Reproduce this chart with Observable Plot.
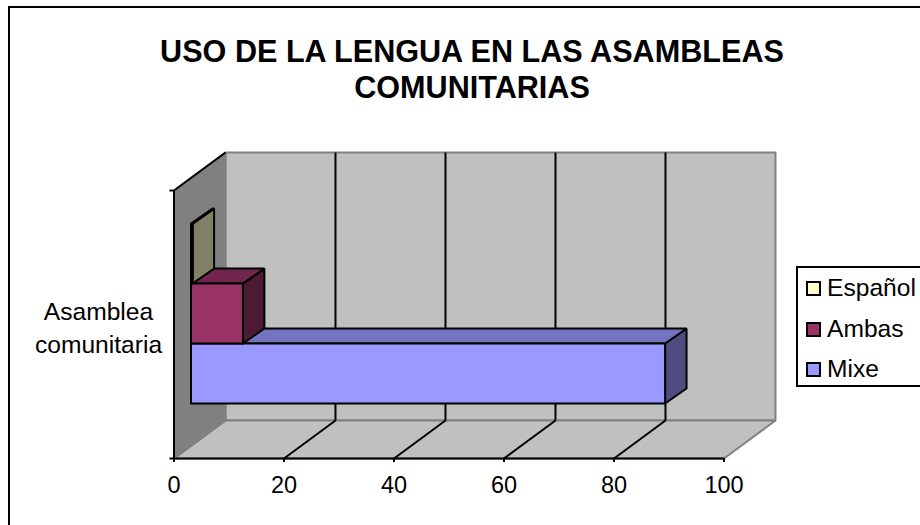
<!DOCTYPE html>
<html lang="es">
<head>
<meta charset="utf-8">
<script src="https://cdn.jsdelivr.net/npm/d3@7"></script>
<script src="https://cdn.jsdelivr.net/npm/@observablehq/plot@0.6"></script>
<style>
  html, body { margin: 0; padding: 0; background: #fff; }
  body { width: 920px; height: 525px; overflow: hidden; position: relative; font-family: "Liberation Sans", Arial, sans-serif; color: #000; }
  #frame { position: absolute; left: 8px; top: 6px; width: 930px; height: 540px; border: 2px solid #000; box-sizing: border-box; }
  #chart { position: absolute; left: 0; top: 0; }
  #title { position: absolute; left: 60px; width: 824px; top: 33px; text-align: center; font-weight: bold; font-size: 30.6px; line-height: 36px; letter-spacing: 0; }
  #legend { position: absolute; left: 796px; top: 266px; width: 140px; height: 121px; border: 2px solid #000; box-sizing: border-box; background: #fff; }
  .row { position: absolute; left: 8px; font-size: 24.6px; line-height: 28px; white-space: nowrap; height: 28px; }
  .sw { display: inline-block; position: absolute; left: 0; top: 7px; width: 15px; height: 15px; border: 2px solid #000; box-sizing: border-box; }
  .lb { position: absolute; left: 21px; top: 0; }
</style>
</head>
<body>
<div id="frame"></div>
<div id="chart"></div>
<div id="title">USO DE LA LENGUA EN LAS ASAMBLEAS<br>COMUNITARIAS</div>
<div id="legend"></div>
<script>
const title = "USO DE LA LENGUA EN LAS ASAMBLEAS COMUNITARIAS";
const category = "Asamblea\ncomunitaria";
const series = ["Mixe", "Ambas", "Español"];
const values = [86.2, 9.45, 0.3];
const xTicks = [0, 20, 40, 60, 80, 100];
const frontColors = ["#9999FF", "#993366", "#FFFFCC"];
const topColors = ["#7373BF", "#73264D", "#BFBF99"];
const sideColors = ["#4D4D80", "#4D1A33", "#808066"];
const legendOrder = ["Español", "Ambas", "Mixe"];

const yMax = 4.47;               // slots on the front plane
const wallDx = 9.36, wallDy = 0.633;  // box depth in scale units
const gapDx = 3.09, gapDy = 0.208;    // where the bars begin inside the box
const barDx = 3.9, barDy = 0.25;      // bar depth
const firstSlot = 0.71;

function face(points, fill, stroke, strokeWidth) {
  const closed = [...points, points[0]].map(([x, y]) => ({x, y}));
  return Plot.line(closed, {x: "x", y: "y", fill, stroke, strokeWidth, strokeLinejoin: "miter", curve: "linear"});
}
function seg(a, b, stroke, strokeWidth) {
  return Plot.line([{x: a[0], y: a[1]}, {x: b[0], y: b[1]}], {x: "x", y: "y", stroke, strokeWidth, strokeLinecap: "butt"});
}

const box = [
  // back wall
  face([[wallDx, wallDy], [100 + wallDx, wallDy], [100 + wallDx, yMax + wallDy], [wallDx, yMax + wallDy]], "#C0C0C0", "#808080", 2),
  // floor
  face([[0, 0], [100, 0], [100 + wallDx, wallDy], [wallDx, wallDy]], "#C0C0C0", "#808080", 2),
  // side wall
  face([[0, 0], [wallDx, wallDy], [wallDx, yMax + wallDy], [0, yMax]], "#808080", "#808080", 2),
  seg([0, 0], [100, 0], "#000", 2),
  seg([0, 0], [0, yMax], "#000", 2),
  seg([0, yMax], [wallDx, yMax + wallDy], "#000", 2),
  // grid on floor and back wall
  ...xTicks.slice(1, -1).flatMap(t => [
    seg([t, 0], [t + wallDx, wallDy], "#000", 2),
    seg([t + wallDx, wallDy], [t + wallDx, yMax + wallDy], "#000", 2)
  ])
];

const bars = values.flatMap((v, i) => {
  const x0 = gapDx, x1 = gapDx + v;
  const y0 = gapDy + firstSlot + i, y1 = y0 + 1;
  return [
    face([[x1, y0], [x1 + barDx, y0 + barDy], [x1 + barDx, y1 + barDy], [x1, y1]], sideColors[i], "#000", 2),
    face([[x0, y1], [x1, y1], [x1 + barDx, y1 + barDy], [x0 + barDx, y1 + barDy]], topColors[i], "#000", 2),
    face([[x0, y0], [x1, y0], [x1, y1], [x0, y1]], frontColors[i], "#000", 2)
  ];
});

const plot = Plot.plot({
  width: 920,
  height: 525,
  marginLeft: 173.5,
  marginRight: 196.5,
  marginTop: 190,
  marginBottom: 67,
  style: {fontFamily: "'Liberation Sans', Arial, sans-serif", background: "transparent", color: "#000", overflow: "visible"},
  x: {domain: [0, 100]},
  y: {domain: [0, yMax]},
  marks: [
    ...box,
    ...bars,
    Plot.axisX({ticks: xTicks, tickSize: 4, tickPadding: 14, fontSize: 23.5, label: null, strokeWidth: 2}),
    Plot.axisY({ticks: [0, yMax], tickSize: 4, tickFormat: () => "", label: null, strokeWidth: 2}),
    Plot.text([category], {x: () => 0, y: () => 2.21, text: d => d, dx: -75.5, fontSize: 24.6, lineHeight: 1.33, fill: "#000", textAnchor: "middle"})
  ]
});
document.getElementById("chart").append(plot);

const legend = document.getElementById("legend");
legendOrder.forEach((name, k) => {
  const i = series.indexOf(name);
  const row = document.createElement("div");
  row.className = "row";
  row.style.top = (6 + k * 40.5) + "px";
  const sw = document.createElement("span");
  sw.className = "sw";
  sw.style.background = frontColors[i];
  const lb = document.createElement("span");
  lb.className = "lb";
  lb.textContent = name;
  row.append(sw, lb);
  legend.append(row);
});
</script>
</body>
</html>
